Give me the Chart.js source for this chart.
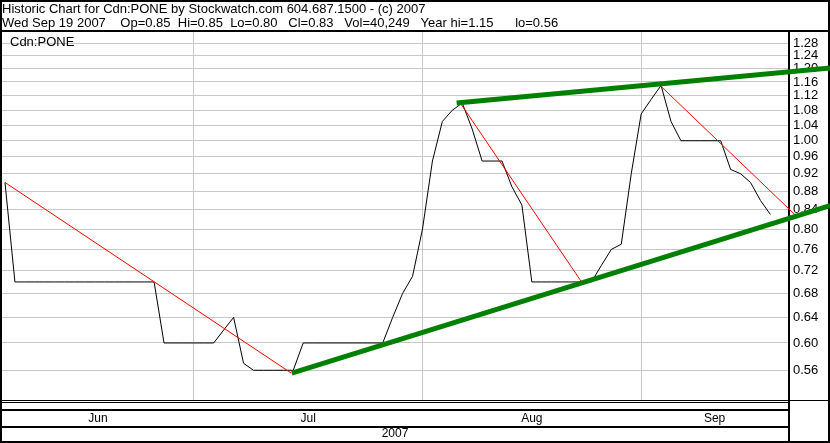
<!DOCTYPE html>
<html>
<head>
<meta charset="utf-8">
<title>Historic Chart for Cdn:PONE</title>
<script src="https://cdn.jsdelivr.net/npm/chart.js@4.4.1/dist/chart.umd.min.js"></script>
<style>
  html, body { margin: 0; padding: 0; background: #fff; }
  #wrap { position: relative; width: 830px; height: 443px; }
</style>
</head>
<body>
<div id="wrap"><canvas id="chart"></canvas></div>
<script>
const symbol = 'Cdn:PONE';
const headerLines = [
  'Historic Chart for Cdn:PONE by Stockwatch.com 604.687.1500 - (c) 2007',
  'Wed Sep 19 2007    Op=0.85  Hi=0.85  Lo=0.80   Cl=0.83   Vol=40,249   Year hi=1.15      lo=0.56',
];
const yearLabel = '2007';

// month labels and the trading-day index where each new month starts
const months = ['Jun', 'Jul', 'Aug', 'Sep'];
const monthStarts = [19, 42, 64];

// daily close, one value per trading day
const closes = [
  0.90,
  0.70, 0.70, 0.70, 0.70, 0.70, 0.70, 0.70, 0.70, 0.70, 0.70, 0.70, 0.70, 0.70, 0.70, 0.70,
  0.60, 0.60, 0.60, 0.60, 0.60, 0.60,
  0.62, 0.64, 0.57,
  0.56, 0.56, 0.56, 0.56, 0.56,
  0.60, 0.60, 0.60, 0.60, 0.60, 0.60, 0.60, 0.60, 0.60,
  0.64, 0.68, 0.71, 0.80, 0.95, 1.05, 1.08, 1.10,
  1.03, 0.95, 0.95, 0.95, 0.89, 0.85,
  0.70, 0.70, 0.70, 0.70, 0.70, 0.70, 0.70,
  0.73, 0.76, 0.77, 0.92, 1.07, 1.11, 1.15,
  1.05, 1.00, 1.00, 1.00, 1.00, 1.00,
  0.93, 0.92, 0.90, 0.86, 0.83,
];

const yTicks = [0.56, 0.60, 0.64, 0.68, 0.72, 0.76, 0.80, 0.84, 0.88, 0.92,
  0.96, 1.00, 1.04, 1.08, 1.12, 1.16, 1.20, 1.24, 1.28];

// hand-drawn trend lines: [tradingDay, price] end points
const supportLine = [[28.85, 0.556], [83, 0.849]];
const resistanceLine = [[45.44, 1.10], [83, 1.2015]];
const redLines = [
  [[0, 0.90], [28.8, 0.556]],
  [[45.8, 1.10], [58, 0.70]],
  [[65.9, 1.15], [79.65, 0.826]],
];

const xMin = -0.3;
const xMax = 78.77;
const gridColor = '#c8c8c8';
const family = "'Liberation Sans', Arial, sans-serif";

Chart.defaults.font.family = family;
Chart.defaults.color = '#000';

const edges = [xMin, ...monthStarts, xMax];
const monthCenters = months.map((_, k) => (edges[k] + edges[k + 1]) / 2);

const toPoints = (pairs) => pairs.map(([x, y]) => ({ x, y }));

/* Frame — black boxes round the plot, the date rows and the price column */
const framePlugin = {
  id: 'frame',
  beforeDatasetsDraw(chart) {
    const { ctx, width, height, chartArea: a } = chart;
    ctx.save();
    ctx.fillStyle = '#000';
    ctx.fillRect(0, 0, width, 2);
    ctx.fillRect(0, 0, 2, height);
    ctx.fillRect(width - 2, 0, 2, height);
    ctx.fillRect(0, height - 2, width, 2);
    ctx.fillRect(0, a.top - 2, width, 2);
    ctx.fillRect(a.right, a.top, 2, height - a.top);
    ctx.fillRect(a.right, a.bottom, width - a.right, 1);
    ctx.fillRect(0, a.bottom, a.right, 1);
    ctx.fillRect(0, a.bottom + 2, a.right, 1);
    ctx.fillRect(0, a.bottom + 9, a.right, 2);
    ctx.fillRect(0, a.bottom + 26, a.right, 2);

    // symbol name in the top-left corner of the plot
    ctx.font = '13px ' + family;
    ctx.textBaseline = 'middle';
    ctx.textAlign = 'left';
    ctx.fillText(symbol, a.left + 8, a.top + 10);
    ctx.restore();
  },
};

const lineStyle = { pointRadius: 0, tension: 0, fill: false };

new Chart(document.getElementById('chart'), {
  type: 'line',
  data: {
    datasets: [
      {
        ...lineStyle,
        label: symbol,
        data: closes.map((v, i) => ({ x: i, y: v })),
        borderColor: '#000',
        borderWidth: 1,
        order: 3,
      },
      ...redLines.map((seg) => ({
        ...lineStyle,
        data: toPoints(seg),
        borderColor: '#ff0000',
        borderWidth: 1,
        clip: false,
        order: 2,
      })),
      {
        ...lineStyle,
        data: toPoints(supportLine),
        borderColor: '#008000',
        borderWidth: 5,
        clip: false,
        order: 1,
      },
      {
        ...lineStyle,
        data: toPoints(resistanceLine),
        borderColor: '#008000',
        borderWidth: 5,
        clip: false,
        order: 1,
      },
    ],
  },
  options: {
    responsive: true,
    maintainAspectRatio: false,
    animation: false,
    events: [],
    layout: { padding: { left: 2, top: 0, right: 0, bottom: 0 } },
    plugins: {
      tooltip: { enabled: false },
      legend: { display: false },
      title: {
        display: true,
        text: headerLines,
        align: 'start',
        color: '#000',
        font: { size: 13, weight: 'normal', lineHeight: '13.5px' },
        padding: { top: 3, bottom: 2 },
      },
    },
    scales: {
      x: {
        type: 'linear',
        position: 'bottom',
        min: xMin,
        max: xMax,
        afterBuildTicks: (s) => {
          s.ticks = [...monthStarts, ...monthCenters].map((v) => ({ value: v }));
        },
        afterFit: (s) => { s.height = 43; },
        grid: {
          drawTicks: false,
          lineWidth: 1,
          color: (ctx) => (ctx.tick && monthStarts.includes(ctx.tick.value) ? gridColor : 'rgba(0,0,0,0)'),
        },
        border: { display: false },
        ticks: {
          autoSkip: false,
          maxRotation: 0,
          padding: 11,
          color: '#000',
          font: { size: 12 },
          callback: (v) => {
            const k = monthCenters.indexOf(v);
            return k >= 0 ? months[k] : '';
          },
        },
        title: {
          display: true,
          text: yearLabel,
          color: '#000',
          font: { size: 12 },
          padding: { top: 0, bottom: 2 },
        },
      },
      y: {
        type: 'logarithmic',
        position: 'right',
        min: 0.5195,
        max: 1.3161,
        afterBuildTicks: (s) => {
          s.ticks = yTicks.map((v) => ({ value: v }));
        },
        afterFit: (s) => { s.width = 42; },
        grid: { drawTicks: false, color: gridColor, lineWidth: 1 },
        border: { display: false },
        ticks: {
          autoSkip: false,
          padding: 5,
          color: '#000',
          font: { size: 13 },
          callback: (v) => Number(v).toFixed(2),
        },
      },
    },
  },
  plugins: [framePlugin],
});
</script>
</body>
</html>
